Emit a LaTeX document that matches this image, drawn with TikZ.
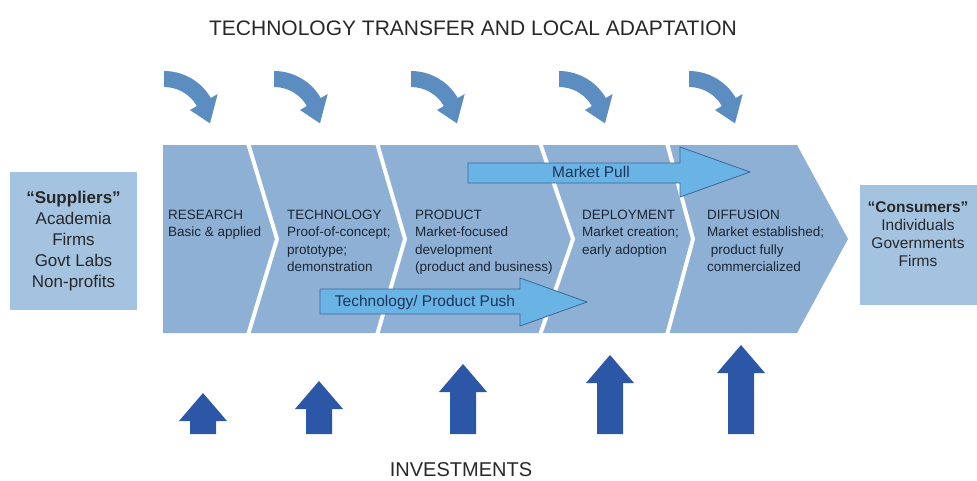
\documentclass[tikz,border=0pt]{standalone}
\usepackage{fontspec}
\setmainfont{Liberation Sans}
\usepackage{tikz}

\definecolor{chevron}{RGB}{141,176,212}
\definecolor{sidebox}{RGB}{164,195,224}
\definecolor{bendblue}{RGB}{92,141,193}
\definecolor{investblue}{RGB}{44,86,166}
\definecolor{flowfill}{RGB}{105,180,228}
\definecolor{flowline}{RGB}{58,104,152}
\definecolor{flowtext}{RGB}{30,52,90}
\definecolor{stagetext}{RGB}{28,38,52}
\definecolor{headtext}{RGB}{40,40,40}

\begin{document}
\begin{tikzpicture}[x=1pt, y=-1pt,
  stage/.style={anchor=north west, inner sep=0pt, align=left, text=stagetext,
    font=\fontsize{13.5}{17.2}\selectfont},
  flowlabel/.style={inner sep=0pt, text=flowtext, font=\fontsize{15.5}{18}\selectfont},
  heading/.style={anchor=base, inner sep=0pt, text=headtext}]
\def \bandtop {145}
\def \bandbot {333}
\def \bandmid {239}
\useasboundingbox (0,0) rectangle (977,480);

\node[heading, font=\fontsize{21}{25}\selectfont] at (473,35) (title) {TECHNOLOGY TRANSFER AND LOCAL ADAPTATION};
\node[heading, font=\fontsize{20}{24}\selectfont] at (461,476) (invest) {INVESTMENTS};

% chevron band with white dividers
\fill[chevron] (163,\bandtop) -- (797,\bandtop) -- (848,\bandmid) -- (797,\bandbot) -- (163,\bandbot) -- cycle;
\foreach \xa/\xb in {248/277, 377/405, 540/573, 667/693}
  \draw[white, line width=4pt] (\xa,\bandtop-2) -- (\xb,\bandmid) -- (\xa,\bandbot+2);

\node[stage] at (168,210) (research) {RESEARCH\\Basic \& applied};
\node[stage] at (287,210) (technology) {TECHNOLOGY\\Proof-of-concept;\\prototype;\\demonstration};
\node[stage] at (415,210) (product) {PRODUCT\\Market-focused\\development\\(product and business)};
\node[stage] at (582,210) (deployment) {DEPLOYMENT\\Market creation;\\early adoption};
\node[stage] at (707,210) (diffusion) {DIFFUSION\\Market established;\\\ product fully\\commercialized};

% pull and push arrows
\filldraw[fill=flowfill, draw=flowline, line width=0.8pt] (468,163) -- (680,163) -- (680,147) -- (750,172)
  -- (680,197) -- (680,183) -- (468,183) -- cycle;
\node[flowlabel] at (591,172) (pull) {Market Pull};
\filldraw[fill=flowfill, draw=flowline, line width=0.8pt] (320,289) -- (520,289) -- (520,278) -- (587,302)
  -- (520,326) -- (520,314) -- (320,314) -- cycle;
\node[flowlabel] at (425,302) (push) {Technology/ Product Push};

% suppliers and consumers
\node[fill=sidebox, minimum width=127pt, minimum height=138pt, inner sep=0pt, align=center,
  text=headtext, font=\fontsize{17}{21}\selectfont] at (73.5,241) (suppliers)
  {{\bfseries “Suppliers”}\\Academia\\Firms\\Govt Labs\\Non-profits};
\fill[sidebox] (860,185) rectangle (977,305);
\node[anchor=north, inner sep=0pt, align=center, text=headtext,
  font=\fontsize{15.5}{18}\selectfont] at (918,201) (consumers)
  {{\bfseries “Consumers”}\\Individuals\\Governments\\Firms};

% bent arrows above the stages
\foreach \cx in {164, 274, 411, 559, 689}
  \fill[bendblue, shift={(\cx,125)}] (-90:54) arc (-90:-30:54) -- (-30:62) -- (-2:46)
    -- (-30:30) -- (-30:38) arc (-30:-90:38) -- cycle;

% investment arrows below the stages
\foreach \ux/\uy in {203/393, 319/381, 463/364, 610/355, 741/345}
  \fill[investblue] (\ux-13,434) -- (\ux-13,\uy+28) -- (\ux-24,\uy+28) -- (\ux,\uy)
    -- (\ux+24,\uy+28) -- (\ux+13,\uy+28) -- (\ux+13,434) -- cycle;

\end{tikzpicture}
\end{document}
